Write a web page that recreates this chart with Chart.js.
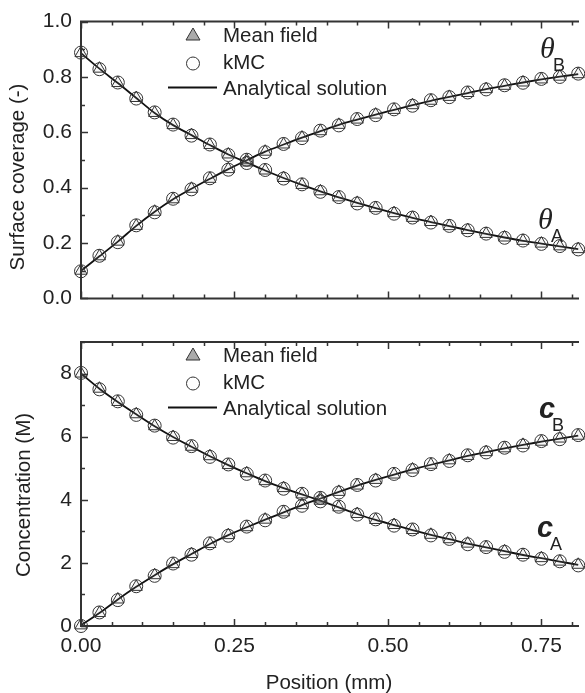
<!DOCTYPE html>
<html lang="en">
<head>
<meta charset="UTF-8" />
<title>Surface coverage and concentration profiles</title>
<script src="https://cdn.jsdelivr.net/npm/chart.js"></script>
<style>
  html, body { margin: 0; padding: 0; background: #fff; overflow: hidden; }
  body { width: 585px; height: 693px; position: relative; }
  #topChart { position: absolute; left: 0; top: 0; }
  #bottomChart { position: absolute; left: 0; top: 320px; }
</style>
</head>
<body>
<canvas id="topChart" width="585" height="320"></canvas>
<canvas id="bottomChart" width="585" height="373"></canvas>

<script>
// ── data ─────────────────────────────────────────────────────────
const positions = [0.00, 0.03, 0.06, 0.09, 0.12, 0.15, 0.18, 0.21, 0.24, 0.27,
  0.30, 0.33, 0.36, 0.39, 0.42, 0.45, 0.48, 0.51, 0.54, 0.57,
  0.60, 0.63, 0.66, 0.69, 0.72, 0.75, 0.78, 0.81];

// surface coverage (-)
const thetaA = [0.886, 0.830, 0.778, 0.724, 0.670, 0.626, 0.590, 0.554, 0.520, 0.491,
  0.462, 0.435, 0.410, 0.387, 0.365, 0.345, 0.326, 0.308, 0.291, 0.276,
  0.261, 0.247, 0.233, 0.220, 0.208, 0.198, 0.188, 0.178];
const thetaB = [0.100, 0.152, 0.205, 0.262, 0.313, 0.358, 0.396, 0.432, 0.467, 0.499,
  0.530, 0.556, 0.581, 0.604, 0.627, 0.646, 0.664, 0.681, 0.698, 0.714,
  0.728, 0.742, 0.756, 0.768, 0.780, 0.791, 0.801, 0.810];
const thetaA_kmc = [0.888, 0.828, 0.780, 0.722, 0.672, 0.628, 0.588, 0.556, 0.518, 0.489,
  0.464, 0.433, 0.412, 0.385, 0.366, 0.343, 0.327, 0.306, 0.292, 0.274,
  0.262, 0.246, 0.234, 0.219, 0.209, 0.197, 0.189, 0.177];
const thetaB_kmc = [0.098, 0.154, 0.203, 0.264, 0.311, 0.360, 0.394, 0.434, 0.465, 0.501,
  0.528, 0.558, 0.579, 0.606, 0.625, 0.648, 0.662, 0.683, 0.696, 0.716,
  0.727, 0.744, 0.755, 0.770, 0.779, 0.793, 0.800, 0.812];

// concentration (M)
const concA = [8.00, 7.52, 7.10, 6.71, 6.33, 5.99, 5.68, 5.38, 5.10, 4.84,
  4.59, 4.37, 4.17, 3.97, 3.76, 3.55, 3.36, 3.20, 3.04, 2.89,
  2.75, 2.61, 2.49, 2.37, 2.25, 2.15, 2.04, 1.94];
const concB = [0.02, 0.41, 0.84, 1.24, 1.61, 1.96, 2.28, 2.60, 2.88, 3.13,
  3.37, 3.60, 3.83, 4.04, 4.25, 4.45, 4.63, 4.80, 4.96, 5.11,
  5.25, 5.39, 5.51, 5.63, 5.74, 5.84, 5.94, 6.03];
const concA_kmc = [8.02, 7.50, 7.12, 6.69, 6.35, 5.97, 5.70, 5.36, 5.12, 4.82,
  4.61, 4.35, 4.19, 3.95, 3.78, 3.53, 3.38, 3.18, 3.06, 2.87,
  2.76, 2.59, 2.50, 2.35, 2.26, 2.13, 2.05, 1.92];
const concB_kmc = [0.00, 0.43, 0.82, 1.26, 1.59, 1.98, 2.26, 2.62, 2.86, 3.15,
  3.35, 3.62, 3.81, 4.06, 4.23, 4.47, 4.61, 4.82, 4.94, 5.13,
  5.23, 5.41, 5.50, 5.65, 5.72, 5.86, 5.92, 6.05];

// axis ticks
const xMax = 0.808;
const xTicks = [0, 0.05, 0.10, 0.15, 0.20, 0.25, 0.30, 0.35, 0.40, 0.45, 0.50, 0.55, 0.60, 0.65, 0.70, 0.75, 0.80];
const xLabelTicks = [0, 0.25, 0.50, 0.75];
const thetaTicks = [0, 0.2, 0.4, 0.6, 0.8, 1.0];
const thetaMinorTicks = [0.1, 0.3, 0.5, 0.7, 0.9];
const concTicks = [0, 2, 4, 6, 8];
const concMinorTicks = [1, 3, 5, 7, 9];

const legendLabels = ['Mean field', 'kMC', 'Analytical solution'];

const FONT = "'Liberation Sans', Arial, Helvetica, sans-serif";
Chart.defaults.font.family = FONT;
Chart.defaults.color = '#222';

const pts = ys => positions.map((x, i) => ({ x, y: ys[i] }));

function makeDatasets(a, b, aKmc, bKmc) {
  const circle = {
    pointStyle: 'circle', pointRadius: 6.5, pointBorderWidth: 1,
    pointBackgroundColor: 'rgba(0,0,0,0)', pointBorderColor: '#333',
    showLine: false, clip: false
  };
  const tri = {
    pointStyle: 'triangle', pointRadius: 7, pointBorderWidth: 1,
    pointBackgroundColor: 'rgba(190,190,190,0.12)', pointBorderColor: '#333',
    showLine: false, clip: false
  };
  const line = {
    pointRadius: 0, showLine: true, borderColor: '#111', borderWidth: 1.8,
    cubicInterpolationMode: 'monotone', clip: false
  };
  return [
    { label: 'kMC A', data: pts(aKmc), ...circle },
    { label: 'kMC B', data: pts(bKmc), ...circle },
    { label: 'Mean field A', data: pts(a), ...tri },
    { label: 'Mean field B', data: pts(b), ...tri },
    { label: 'Analytical A', data: pts(a), ...line },
    { label: 'Analytical B', data: pts(b), ...line }
  ];
}

// frame, inward ticks, y title, legend and curve labels
const decor = {
  id: 'decor',
  afterDraw(chart, args, o) {
    const { ctx, chartArea: a, scales: { x, y } } = chart;
    ctx.save();

    // frame (right side is cut off in the figure)
    ctx.strokeStyle = '#333';
    ctx.lineWidth = 2;
    ctx.beginPath();
    ctx.moveTo(a.right + 2, a.top);
    ctx.lineTo(a.left, a.top);
    ctx.lineTo(a.left, a.bottom);
    ctx.lineTo(a.right + 2, a.bottom);
    ctx.stroke();

    ctx.lineWidth = 1.5;
    ctx.beginPath();
    xTicks.forEach(v => {
      const px = Math.round(x.getPixelForValue(v)) + 0.5;
      const len = xLabelTicks.some(t => Math.abs(t - v) < 1e-6) ? 7 : 4;
      ctx.moveTo(px, a.bottom); ctx.lineTo(px, a.bottom - len);
      ctx.moveTo(px, a.top); ctx.lineTo(px, a.top + len);
    });
    o.yMajor.forEach(v => {
      const py = Math.round(y.getPixelForValue(v)) + 0.5;
      ctx.moveTo(a.left, py); ctx.lineTo(a.left + 7, py);
    });
    o.yMinor.forEach(v => {
      const py = Math.round(y.getPixelForValue(v)) + 0.5;
      ctx.moveTo(a.left, py); ctx.lineTo(a.left + 4, py);
    });
    ctx.stroke();

    // y axis title
    ctx.fillStyle = '#222';
    ctx.font = '20.5px ' + FONT;
    ctx.textAlign = 'center';
    ctx.textBaseline = 'middle';
    ctx.save();
    ctx.translate(o.titleX, o.titleY);
    ctx.rotate(-Math.PI / 2);
    ctx.fillText(o.title, 0, 0);
    ctx.restore();

    // legend
    ctx.textAlign = 'left';
    ctx.textBaseline = 'alphabetic';
    ctx.font = '20.5px ' + FONT;
    legendLabels.forEach((t, i) => ctx.fillText(t, 223, 42 + i * 26.7));
    ctx.lineWidth = 1;
    ctx.strokeStyle = '#333';
    // triangle symbol
    ctx.beginPath();
    ctx.moveTo(193, 28); ctx.lineTo(200, 40); ctx.lineTo(186, 40); ctx.closePath();
    ctx.fillStyle = '#aaa'; ctx.fill(); ctx.stroke();
    // circle symbol
    ctx.beginPath();
    ctx.arc(193, 63.5, 6.5, 0, Math.PI * 2);
    ctx.stroke();
    // line symbol
    ctx.lineWidth = 1.8;
    ctx.strokeStyle = '#111';
    ctx.beginPath();
    ctx.moveTo(168, 87.5); ctx.lineTo(217, 87.5);
    ctx.stroke();

    // curve labels
    ctx.fillStyle = '#222';
    o.labels.forEach(l => {
      ctx.font = l.font;
      ctx.fillText(l.sym, l.x, l.y);
      ctx.font = '18px ' + FONT;
      ctx.fillText(l.sub, l.x + 13, l.y + 13);
    });
    ctx.restore();
  }
};

function yScale(min, max, ticks, fmt) {
  return {
    min, max,
    afterBuildTicks: s => { s.ticks = ticks.map(v => ({ value: v })); },
    afterFit: s => { s.width = 81; },
    grid: { display: false, drawTicks: false },
    border: { display: false },
    ticks: { font: { size: 21 }, padding: 9, callback: fmt }
  };
}

// top: surface coverage
new Chart(document.getElementById('topChart'), {
  type: 'scatter',
  data: { datasets: makeDatasets(thetaA, thetaB, thetaA_kmc, thetaB_kmc) },
  options: {
    responsive: false,
    animation: false,
    layout: { padding: { top: 21, bottom: 15, left: 0, right: 0 } },
    scales: {
      x: { type: 'linear', min: 0, max: xMax, display: false },
      y: yScale(0, 1, thetaTicks, v => v.toFixed(1))
    },
    plugins: {
      legend: { display: false },
      tooltip: { enabled: false },
      decor: {
        yMajor: thetaTicks, yMinor: thetaMinorTicks,
        title: 'Surface coverage (-)', titleX: 18.5, titleY: 177,
        labels: [
          { sym: 'θ', sub: 'B', x: 540, y: 58, font: "italic 30px 'Liberation Serif', 'DejaVu Serif', serif" },
          { sym: 'θ', sub: 'A', x: 538, y: 229, font: "italic 30px 'Liberation Serif', 'DejaVu Serif', serif" }
        ]
      }
    }
  },
  plugins: [decor]
});

// bottom: concentration
new Chart(document.getElementById('bottomChart'), {
  type: 'scatter',
  data: { datasets: makeDatasets(concA, concB, concA_kmc, concB_kmc) },
  options: {
    responsive: false,
    animation: false,
    layout: { padding: { top: 22, bottom: 0, left: 0, right: 0 } },
    scales: {
      x: {
        type: 'linear', min: 0, max: xMax,
        afterBuildTicks: s => { s.ticks = xLabelTicks.map(v => ({ value: v })); },
        afterFit: s => { s.height = 67; },
        grid: { display: false, drawTicks: false },
        border: { display: false },
        ticks: { font: { size: 21 }, padding: 8, maxRotation: 0, callback: v => v.toFixed(2) },
        title: {
          display: true, text: 'Position (mm)',
          font: { size: 20.5, lineHeight: 1 }, padding: { top: 0, bottom: -1 }, color: '#222'
        }
      },
      y: yScale(0, 9, concTicks, v => String(v))
    },
    plugins: {
      legend: { display: false },
      tooltip: { enabled: false },
      decor: {
        yMajor: concTicks, yMinor: concMinorTicks,
        title: 'Concentration (M)', titleX: 24.5, titleY: 175,
        labels: [
          { sym: 'c', sub: 'B', x: 539, y: 98, font: "italic bold 29px " + FONT },
          { sym: 'c', sub: 'A', x: 537, y: 217, font: "italic bold 29px " + FONT }
        ]
      }
    }
  },
  plugins: [decor]
});
</script>
</body>
</html>
